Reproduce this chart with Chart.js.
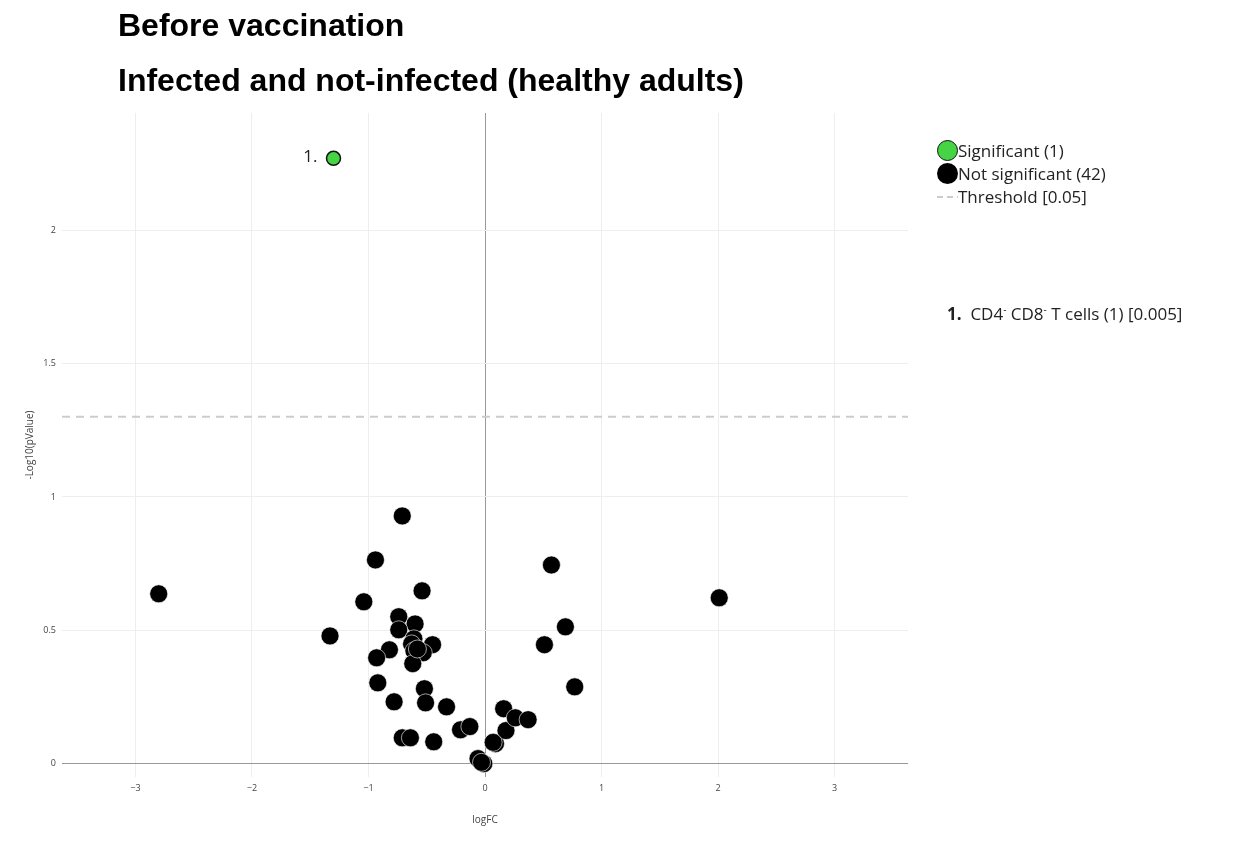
<!DOCTYPE html>
<html>
<head>
<meta charset="utf-8">
<script src="https://cdn.jsdelivr.net/npm/chart.js@4"></script>
<style>
  html, body { margin:0; padding:0; background:#fff; }
  #wrap { position:relative; width:1253px; height:856px; overflow:hidden; }
  canvas { position:absolute; left:0; top:0; }
  .title { position:absolute; left:118px; font-family:"Liberation Sans", Arial, sans-serif; font-weight:bold; font-size:32px; line-height:32px; color:#000; white-space:nowrap; }
  .leg { position:absolute; font-family:"Open Sans","Noto Sans",sans-serif; font-size:17px; color:#222; white-space:nowrap; }
  .leg .row { height:23px; line-height:23px; display:flex; align-items:center; }
  .dot { display:inline-block; box-sizing:border-box; border-radius:50%; }
  .ann { position:absolute; left:947px; top:302px; font-family:"Open Sans","Noto Sans",sans-serif; font-size:17px; color:#222; white-space:nowrap; }
  sup { font-size:10px; vertical-align:7px; }
</style>
</head>
<body>
<div id="wrap">
  <canvas id="c" width="1253" height="856"></canvas>
  <div class="title" style="top:9px;">Before vaccination</div>
  <div class="title" style="top:64px;">Infected and not-infected (healthy adults)</div>
  <div class="leg" style="left:937px; top:139px;">
    <div class="row"><span class="dot" style="width:21px;height:21px;background:#44d444;border:1.5px solid #111;"></span><span>Significant (1)</span></div>
    <div class="row"><span class="dot" style="width:21px;height:21px;background:#000;"></span><span>Not significant (42)</span></div>
    <div class="row"><span style="display:inline-block;width:21px;height:2px;background:repeating-linear-gradient(90deg,#ccc 0 6px,transparent 6px 10px);"></span><span>Threshold [0.05]</span></div>
  </div>
  <div class="ann"><b>1.</b>&nbsp; CD4<sup>-</sup> CD8<sup>-</sup> T cells (1) [0.005]</div>
</div>
<script>
// ---- data ----
const sigLabels = ["1."];
const sigX = [-1.30];
const sigY = [2.27];

const nsX = [-2.80,-1.33,-0.71,-0.94,-1.04,-0.54,-0.74,-0.60,-0.74,-0.61,-0.63,-0.45,-0.82,-0.93,-0.53,-0.61,-0.62,-0.92,-0.52,-0.78,-0.51,-0.33,-0.21,-0.13,-0.71,-0.64,-0.44,-0.06,-0.01,0.09,0.18,0.16,0.26,0.37,0.57,0.69,0.51,0.77,2.01,-0.03,0.07,-0.58];
const nsY = [0.637,0.479,0.929,0.764,0.607,0.648,0.551,0.524,0.502,0.468,0.449,0.446,0.427,0.397,0.416,0.423,0.375,0.303,0.281,0.232,0.228,0.213,0.127,0.139,0.097,0.097,0.082,0.019,0.000,0.075,0.124,0.206,0.172,0.165,0.745,0.513,0.446,0.288,0.622,0.005,0.080,0.430];

const threshold = 1.301; // -log10(0.05)
const xRange = [-3.63, 3.63];
const yRange = [-0.05, 2.44];
const xTicks = [-3,-2,-1,0,1,2,3];
const yTicks = [0,0.5,1,1.5,2];

// ---- build ----
const sigData = sigX.map((x,i)=>({x, y: sigY[i]}));
const nsData = nsX.map((x,i)=>({x, y: nsY[i]}));
const thrData = xRange.map(x=>({x, y: threshold}));

const labelPlugin = {
  id:'pointLabels',
  afterDatasetsDraw(chart){
    const ctx = chart.ctx;
    const xs = chart.scales.x, ys = chart.scales.y;
    ctx.save();
    ctx.font = '17px "Open Sans", "Noto Sans", sans-serif';
    ctx.fillStyle = '#222';
    ctx.textAlign = 'right';
    ctx.textBaseline = 'middle';
    sigData.forEach((p,i)=>{
      ctx.fillText(sigLabels[i], xs.getPixelForValue(p.x) - 16, ys.getPixelForValue(p.y) - 1);
    });
    ctx.restore();
  }
};

const fmt = v => (v < 0 ? '\u2212' + Math.abs(v) : String(v));

new Chart(document.getElementById('c'), {
  type: 'scatter',
  data: {
    datasets: [
      { label:'Threshold [0.05]', type:'line', data: thrData, borderColor:'#cccccc', borderWidth:2, borderDash:[8,6], pointRadius:0, fill:false, order:3 },
      { label:'Not significant (42)', data: nsData, backgroundColor:'#000', borderColor:'rgba(255,255,255,0.6)', borderWidth:1, pointRadius:9, pointHoverRadius:9, order:2 },
      { label:'Significant (1)', data: sigData, backgroundColor:'#44d444', borderColor:'#111', borderWidth:1.5, pointRadius:7, pointHoverRadius:7, order:1 }
    ]
  },
  options: {
    responsive:false,
    animation:false,
    layout:{ padding:{ left:0, top:113, right:345, bottom:0 } },
    plugins:{ legend:{display:false}, tooltip:{enabled:false} },
    scales:{
      x:{
        type:'linear', min:xRange[0], max:xRange[1],
        afterBuildTicks(s){ s.ticks = xTicks.map(v=>({value:v})); },
        afterFit(s){ s.height = 79; },
        border:{display:false},
        grid:{ drawTicks:false, color:(c)=> c.tick && c.tick.value===0 ? '#999' : '#eeeeee', lineWidth:1 },
        ticks:{ padding:6, color:'#444', font:{family:'"Open Sans", "Noto Sans", sans-serif', size:9}, callback:(v)=>fmt(v), maxRotation:0 },
        title:{ display:true, text:'logFC', color:'#444', font:{family:'"Open Sans", "Noto Sans", sans-serif', size:10}, padding:{top:0,bottom:30} }
      },
      y:{
        type:'linear', min:yRange[0], max:yRange[1],
        afterBuildTicks(s){ s.ticks = yTicks.map(v=>({value:v})); },
        afterFit(s){ s.width = 62; },
        border:{display:false},
        grid:{ drawTicks:false, color:(c)=> c.tick && c.tick.value===0 ? '#999' : '#eeeeee', lineWidth:1 },
        ticks:{ padding:6, color:'#444', font:{family:'"Open Sans", "Noto Sans", sans-serif', size:9}, callback:(v)=>fmt(v) },
        title:{ display:true, text:'-Log10(pValue)', color:'#444', font:{family:'"Open Sans", "Noto Sans", sans-serif', size:10}, padding:{top:24,bottom:0} }
      }
    }
  },
  plugins:[labelPlugin]
});
</script>
</body>
</html>
